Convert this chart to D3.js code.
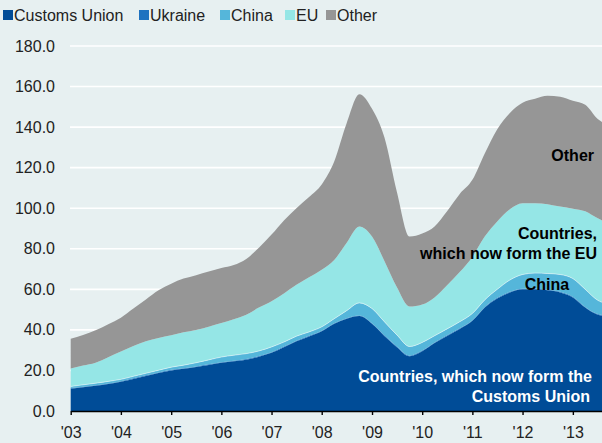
<!DOCTYPE html>
<html>
<head>
	<meta charset="utf-8">
	<style>
		body { margin: 0; background: #e7f0f1; }
		svg text { font-family: "Liberation Sans Narrow", "Arial Narrow", sans-serif; }
	</style>
</head>
<body>

	<div id="chart"></div>

	<script src="https://cdnjs.cloudflare.com/ajax/libs/d3/7.8.5/d3.min.js"></script>

	<script>
		const W = 602;
		const H = 443;

		// quarterly points, last one is the latest month shown
		const periods = [
			'2003-01', '2003-04', '2003-07', '2003-10',
			'2004-01', '2004-04', '2004-07', '2004-10',
			'2005-01', '2005-04', '2005-07', '2005-10',
			'2006-01', '2006-04', '2006-07', '2006-10',
			'2007-01', '2007-04', '2007-07', '2007-10',
			'2008-01', '2008-04', '2008-07', '2008-10',
			'2009-01', '2009-04', '2009-07', '2009-10',
			'2010-01', '2010-04', '2010-07', '2010-10',
			'2011-01', '2011-04', '2011-07', '2011-10',
			'2012-01', '2012-04', '2012-07', '2012-10',
			'2013-01', '2013-04', '2013-07', '2013-08'
		];

		const customsUnion = [11, 11.7, 12.4, 13.3, 14.4, 15.8, 17.3, 18.7, 20, 20.8, 21.7, 22.7, 23.8, 24.5, 25.3, 26.8,
			28.7, 31.5, 34.4, 36.8, 39.3, 43, 45.5, 46.8, 43, 37, 31.5, 27, 29.5, 33.5, 37, 40.5,
			44.5, 51, 55.5, 58.5, 60, 60, 59.5, 58.5, 56, 51, 47.5, 47];
		const ukraine = [0.3, 0.3, 0.3, 0.3, 0.3, 0.3, 0.3, 0.3, 0.3, 0.3, 0.3, 0.3, 0.3, 0.3, 0.3, 0.3,
			0.3, 0.3, 0.3, 0.3, 0.3, 0.3, 0.3, 0.3, 0.3, 0.3, 0.3, 0.3, 0.3, 0.3, 0.3, 0.3,
			0.3, 0.3, 0.3, 0.3, 0.3, 0.3, 0.3, 0.3, 0.3, 0.3, 0.3, 0.3];
		const china = [0.8, 0.9, 1.0, 1.0, 0.9, 1.0, 1.0, 1.1, 1.3, 1.5, 1.8, 2.2, 2.5, 2.7, 2.7, 2.5,
			2.6, 2.2, 2.2, 1.9, 1.9, 2.2, 3.7, 6.2, 7.2, 6.7, 5.7, 4.5, 4.0, 3.3, 3.2, 3.2,
			3.3, 3.5, 4.2, 5.8, 7.0, 7.7, 8.0, 8.5, 9.0, 8.7, 6.8, 6.3];
		const eu = [8.9, 9.5, 10.1, 11.9, 13.7, 14.9, 15.8, 15.9, 15.7, 16.2, 16.2, 16.4, 16.8, 17.8, 19.2, 21.4,
			22.5, 24, 25.4, 27, 28.2, 29, 33.5, 37.7, 35.5, 30, 23.5, 19.7, 18.7, 18.9, 21.5, 24.5,
			27.9, 31.2, 33.5, 34.9, 35.2, 34.5, 34.2, 33.5, 34.5, 38.5, 40.4, 40.4];
		const other = [14.6, 15.1, 16, 16.3, 16.7, 18.5, 20.6, 23.5, 25.5, 26.5, 27, 27.2, 27.1, 26.7, 27.5, 29.5,
			32.9, 36, 37.7, 39.5, 42, 48.5, 59, 65.2, 63, 61, 47, 34.5, 35, 35, 36.5, 38.5,
			38, 41, 45.5, 47.5, 49.5, 51.5, 53.5, 54.2, 53.2, 52.5, 49, 48.5];

		const seriesNames = ['Customs Union', 'Ukraine', 'China', 'EU', 'Other'];
		const colors = ['#004c97', '#1f72c0', '#55b6da', '#95e6e6', '#969696'];
		const yearTicks = ['2003', '2004', '2005', '2006', '2007', '2008', '2009', '2010', '2011', '2012', '2013'];
		const yearLabels = ["'03", "'04", "'05", "'06", "'07", "'08", "'09", "'10", "'11", "'12", "'13"];
		const yTicks = [0, 20, 40, 60, 80, 100, 120, 140, 160, 180];

		const parseMonth = d3.timeParse('%Y-%m');
		const parseYear = d3.timeParse('%Y');

		const rows = periods.map((p, i) => ({
			date: parseMonth(p),
			'Customs Union': customsUnion[i],
			'Ukraine': ukraine[i],
			'China': china[i],
			'EU': eu[i],
			'Other': other[i]
		}));

		const svg = d3.select('#chart')
			.append('svg')
			.attr('width', W)
			.attr('height', H);

		svg.append('rect')
			.attr('width', W)
			.attr('height', H)
			.attr('fill', '#e7f0f1');

		const x = d3.scaleTime()
			.domain(d3.extent(rows, d => d.date))
			.range([70.7, 602]);

		const y = d3.scaleLinear()
			.domain([0, 180])
			.range([411, 46]);

		// gridlines behind the areas
		svg.append('g')
			.selectAll('line')
			.data(yTicks.filter(v => v > 0))
			.join('line')
				.attr('x1', 70)
				.attr('x2', W)
				.attr('y1', d => y(d))
				.attr('y2', d => y(d))
				.attr('stroke', '#fff')
				.attr('stroke-width', 1.6);

		const stack = d3.stack().keys(seriesNames);
		const layers = stack(rows);

		const area = d3.area()
			.x(d => x(d.data.date))
			.y0(d => y(d[0]))
			.y1(d => y(d[1]))
			.curve(d3.curveMonotoneX);

		svg.append('g')
			.selectAll('path')
			.data(layers)
			.join('path')
				.attr('d', area)
				.attr('fill', (d, i) => colors[i]);

		// thin light edge on top of the China layer
		const topLine = d3.line()
			.x(d => x(d.data.date))
			.y(d => y(d[1]))
			.curve(d3.curveMonotoneX);

		svg.append('path')
			.attr('d', topLine(layers[2]))
			.attr('fill', 'none')
			.attr('stroke', '#fff')
			.attr('stroke-opacity', 0.6)
			.attr('stroke-width', 0.8);

		// y labels
		svg.append('g')
			.selectAll('text')
			.data(yTicks)
			.join('text')
				.attr('x', 55)
				.attr('y', d => y(d))
				.attr('dy', '0.35em')
				.attr('text-anchor', 'end')
				.attr('font-size', 16)
				.attr('fill', '#222')
				.text(d3.format('.1f'));

		// x axis
		const xAxis = d3.axisBottom(x)
			.tickValues(yearTicks.map(parseYear))
			.tickFormat((d, i) => yearLabels[i])
			.tickSizeInner(4)
			.tickSizeOuter(0)
			.tickPadding(12);

		const gx = svg.append('g')
			.attr('transform', `translate(0, ${y(0)})`)
			.call(xAxis);

		gx.select('.domain').attr('stroke', '#000').attr('stroke-width', 1.6);
		gx.selectAll('.tick line').attr('stroke', '#000').attr('stroke-width', 1.4);
		gx.selectAll('.tick text')
			.attr('font-size', 16)
			.attr('fill', '#222')
			.style('font-family', '"Liberation Sans Narrow", "Arial Narrow", sans-serif');

		// legend
		const legendX = [3, 139, 220, 285, 326];
		const legend = svg.append('g')
			.selectAll('g')
			.data(seriesNames)
			.join('g')
				.attr('transform', (d, i) => `translate(${legendX[i]}, 0)`);

		legend.append('rect')
			.attr('x', 0)
			.attr('y', 10)
			.attr('width', 10)
			.attr('height', 10)
			.attr('fill', (d, i) => colors[i]);

		legend.append('text')
			.attr('x', 11)
			.attr('y', 21)
			.attr('font-size', 16)
			.attr('fill', '#222')
			.text(d => d);

		// labels on the areas
		const notes = [
			{ text: 'Other', fill: '#000' },
			{ text: 'Countries,', fill: '#000' },
			{ text: 'which now form the EU', fill: '#000' },
			{ text: 'China', fill: '#000' },
			{ text: 'Countries, which now form the', fill: '#fff' },
			{ text: 'Customs Union', fill: '#fff' }
		];
		const notePos = [
			[594, 161, 'end'],
			[597, 239, 'end'],
			[597, 259, 'end'],
			[547, 290, 'middle'],
			[592, 382, 'end'],
			[590, 402, 'end']
		];

		svg.append('g')
			.selectAll('text')
			.data(notes)
			.join('text')
				.attr('x', (d, i) => notePos[i][0])
				.attr('y', (d, i) => notePos[i][1])
				.attr('text-anchor', (d, i) => notePos[i][2])
				.attr('font-size', 16)
				.attr('font-weight', 'bold')
				.attr('fill', d => d.fill)
				.text(d => d.text);
	</script>

</body>
</html>
